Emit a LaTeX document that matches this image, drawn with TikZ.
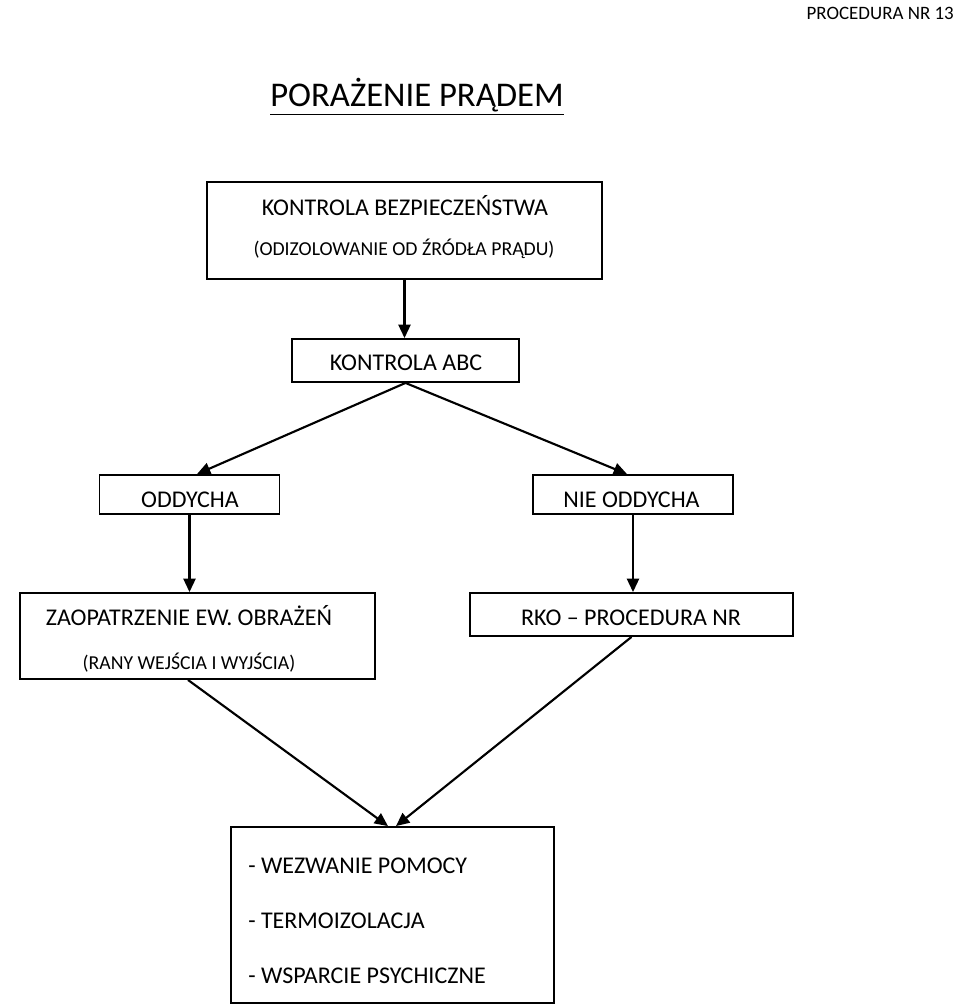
\documentclass[tikz,border=0pt]{standalone}
\usepackage{fontspec}
\setmainfont{Carlito}
\usepackage{tikz}
\usetikzlibrary{arrows.meta}
\usetikzlibrary{calc}

\tikzset{
  box/.style 2 args={draw, line width=1.4pt, inner sep=0pt,
    minimum width=#1*0.75pt, minimum height=#2*0.75pt},
  txt/.style={inner sep=0pt, anchor=base, font=\fontsize{18}{21}\selectfont},
  sub/.style={inner sep=0pt, anchor=base, font=\fontsize{14.8}{18}\selectfont},
  arrow/.style={line width=1.6pt, -{Triangle[length=10pt,width=9pt]}}
}

\begin{document}
\begin{tikzpicture}[x=0.75pt, y=-0.75pt]
                \useasboundingbox (0,0) rectangle (960,1006);

                % Header and title
                \node[inner sep=0pt, anchor=base east, font=\fontsize{14.2}{17}\selectfont]
                    (nr) at (954,20) {PROCEDURA NR 13};
                \node[inner sep=0pt, anchor=base west, font=\fontsize{26}{30}\selectfont]
                    (tytul) at (270,107) {\underline{PORAŻENIE PRĄDEM}};

                % Boxes
                \node[box={395}{97}] (bez) at (404.5,230.5) {};
                \node[box={227}{43}] (abc) at (405.5,360.5) {};
                \node[box={180}{39}] (odd) at (189.5,494.5) {};
                \node[box={200}{39}] (nodd) at (633,494.5) {};
                \node[box={355}{86}] (zao) at (197.5,636) {};
                \node[box={323}{43}] (rko) at (631.5,614.5) {};
                \node[box={323}{176}] (pom) at (392.5,915) {};

                % Texts
                \node[txt] (bez1) at (405,215.5) {KONTROLA BEZPIECZEŃSTWA};
                \node[sub] (bez2) at (404,255) {(ODIZOLOWANIE OD ŹRÓDŁA PRĄDU)};
                \node[txt] (abc1) at (406,370) {KONTROLA ABC};
                \node[txt] (odd1) at (190,507) {ODDYCHA};
                \node[txt] (nodd1) at (631.5,507) {NIE ODDYCHA};
                \node[txt] (zao1) at (189,625) {ZAOPATRZENIE EW. OBRAŻEŃ};
                \node[sub] (zao2) at (189,669) {(RANY WEJŚCIA I WYJŚCIA)};
                \node[txt] (rko1) at (631,625) {RKO – PROCEDURA NR};
                \node[txt, anchor=base west] (pom1) at (248,873) {- WEZWANIE POMOCY};
                \node[txt, anchor=base west] (pom2) at (248,928) {- TERMOIZOLACJA};
                \node[txt, anchor=base west] (pom3) at (248,983) {- WSPARCIE PSYCHICZNE};

                % Arrows
                \draw[arrow] (bez.south) -- (bez.south |- abc.north);
                \draw[arrow] (abc.south) -- ($(odd.north)+(7.5,0)$);
                \draw[arrow] (abc.south) -- ($(nodd.north)+(-6,0)$);
                \draw[arrow] (odd.south) -- (odd.south |- zao.north);
                \draw[arrow] (nodd.south) -- (nodd.south |- rko.north);
                \draw[arrow] ($(zao.south)+(-9.5,0)$) -- ($(pom.north)+(-4.5,0)$);
                \draw[arrow] (rko.south) -- ($(pom.north)+(3.5,0)$);
            \end{tikzpicture}
\end{document}
